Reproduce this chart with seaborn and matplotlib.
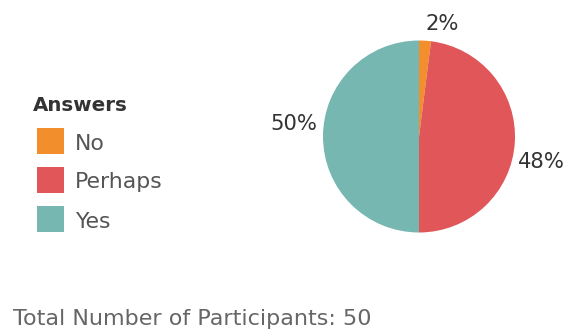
import matplotlib
matplotlib.use("Agg")
import matplotlib.pyplot as plt
from matplotlib.patches import Rectangle
import seaborn as sns

# Data
answers = ["No", "Perhaps", "Yes"]
counts = [1, 24, 25]
pct_labels = ["2%", "48%", "50%"]
colors = ["#F28E2B", "#E15759", "#76B7B2"]
total_text = "Total Number of Participants: 50"

sns.set_theme(style="white")
plt.rcParams['font.family'] = ['DejaVu Sans']
palette = sns.color_palette(colors)

W, H = 568, 331
fig = plt.figure(figsize=(W / 100, H / 100), dpi=100)
fig.patch.set_facecolor("white")

# Pie axes: center (419,136.5) px, radius 96 px
cx, cy, r = 419, 136.5, 96
ax = fig.add_axes([(cx - r) / W, (H - cy - r) / H, 2 * r / W, 2 * r / H])
wedges, _ = ax.pie(counts, colors=palette, startangle=90, counterclock=False,
                   wedgeprops=dict(linewidth=0))
ax.set_aspect("equal")
ax.set_xlim(-1, 1)
ax.set_ylim(-1, 1)
ax.axis("off")

# percent labels (pixel positions: center x, baseline y)
label_pos = [(442, 30), (541, 168), (294, 130)]
for (lx, ly), t in zip(label_pos, pct_labels):
    fig.text(lx / W, 1 - ly / H, t, ha="center", va="baseline",
             fontsize=15.2, color="#333333")

# Legend (manual)
fig.text(33 / W, 1 - 111 / H, "Answers", ha="left", va="baseline",
         fontsize=14.3, fontweight="bold", color="#333333")
rows_y = [141, 180, 219]
for yc, name, c in zip(rows_y, answers, palette):
    fig.add_artist(Rectangle((37 / W, 1 - (yc + 13) / H), 27 / W, 26 / H,
                             transform=fig.transFigure, facecolor=c,
                             edgecolor="none"))
    fig.text(75 / W, 1 - (yc + 8.5) / H, name, ha="left", va="baseline",
             fontsize=15.8, color="#555555")

fig.text(13 / W, 1 - 325 / H, total_text, ha="left", va="baseline",
         fontsize=16, color="#666666")

fig.savefig("out.png", dpi=100)
